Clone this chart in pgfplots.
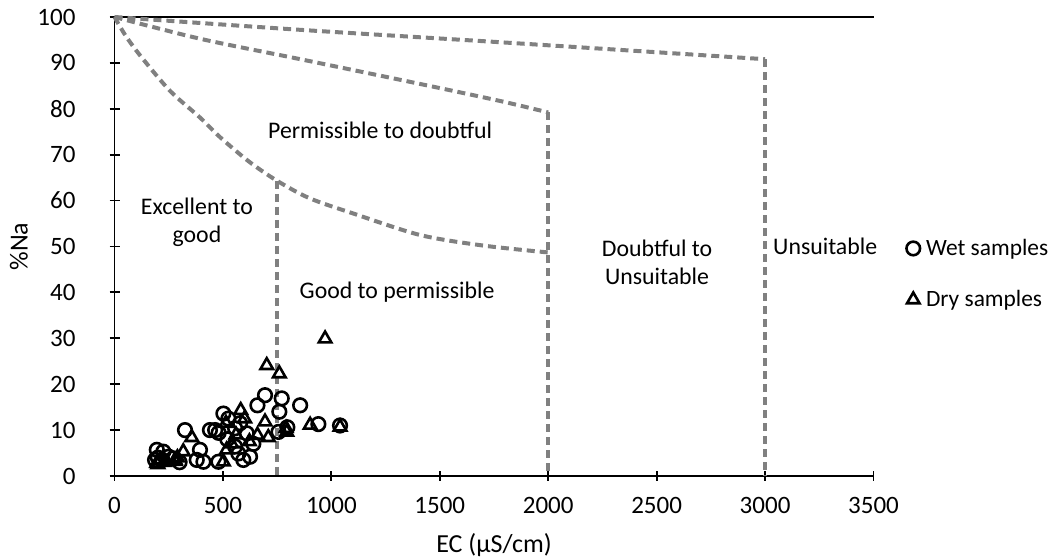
\documentclass[border=0pt]{standalone}
\usepackage{pgfplots}
\pgfplotsset{compat=1.18}
\usepackage{fontspec}
\setmainfont{Carlito}
\definecolor{dashgray}{HTML}{808080}
\begin{document}
\begin{tikzpicture}
\begin{axis}[
  scale only axis,
  width=379.5pt, height=229.5pt,
  xmin=0, xmax=3500, ymin=0, ymax=100,
  axis lines=left,
  axis line style={-, line width=0.9pt},
  xtick={0,500,...,3500}, ytick={0,10,...,100},
  tick align=center,
  major tick length=5pt,
  tick style={line width=0.9pt, black},
  /pgf/number format/assume math mode=true,
  /pgf/number format/1000 sep={},
  tick label style={font=\fontsize{12.5}{14}\selectfont},
  xticklabel style={yshift=-4.5pt},
  yticklabel style={xshift=-13.5pt},
  xlabel={EC (µS/cm)}, ylabel={\%Na},
  label style={font=\fontsize{13}{15}\selectfont},
  xlabel style={at={(axis description cs:0.5,-0.150)}, anchor=center},
  ylabel style={at={(axis description cs:-0.126,0.5)}, anchor=center},
  clip=false,
  legend style={at={(1.035,0.535)}, anchor=north west, draw=none,
    font=\fontsize{11.7}{13}\selectfont, row sep=12pt,
    /tikz/every odd column/.append style={column sep=1pt}},
  legend cell align=left,
]
% top border
\addplot[black, line width=0.9pt, forget plot] coordinates {(0,100) (3500,100)};
% Wilcox boundaries
\addplot[dashgray, line width=2pt, dash pattern=on 4pt off 2.5pt, smooth, forget plot] coordinates {
 (0,100) (50,96) (120,91.5) (256,83.9) (394,78.1) (487,73.8) (620,68.5) (750,64.3) (900,60.5) (1100,57.2) (1409,52.5) (1700,50.2) (2000,48.7)};
\addplot[dashgray, line width=2pt, dash pattern=on 4pt off 2.5pt, forget plot] coordinates {(750,64.3) (750,0)};
\addplot[dashgray, line width=2pt, dash pattern=on 4pt off 2.5pt, smooth, forget plot] coordinates {
 (0,100) (400,95.2) (857,90.8) (1400,85.5) (1778,81.7) (2000,79.2)};
\addplot[dashgray, line width=2pt, dash pattern=on 4pt off 2.5pt, forget plot] coordinates {(2000,79.2) (2000,0)};
\addplot[dashgray, line width=2pt, dash pattern=on 4pt off 2.5pt, smooth, forget plot] coordinates {
 (0,100) (857,97.2) (1778,94.5) (3000,90.8)};
\addplot[dashgray, line width=2pt, dash pattern=on 4pt off 2.5pt, forget plot] coordinates {(3000,90.8) (3000,0)};
% Wet samples
\addplot[only marks, mark=o, mark size=3.4pt, black, line width=1.3pt] coordinates {
 (694,17.6) (659,15.4) (771,16.9) (760,14.0) (856,15.4) (940,11.3) (797,10.6) (756,9.6)
 (325,10) (502,13.6) (525,12.5) (440,10) (464,10) (480,9.4) (556,10.4) (579,11.5)
 (610,9.3) (625,4.2) (594,3.5) (394,5.7) (379,3.5) (410,3.1) (479,3.1) (195,5.7)
 (225,5.3) (187,3.5) (556,6.4) (571,4.9) (1040,11) (200,4) (220,3.5) (250,4.2)
 (270,3.8) (300,3) (520,8) (640,7)};
\addlegendentry{Wet samples}
% Dry samples
\addplot[only marks, mark=triangle, mark size=3.6pt, black, line width=1.3pt] coordinates {
 (702,24.1) (760,22.3) (582,14.3) (694,11.8) (709,8.4) (659,8.9) (902,11.1) (791,10.4)
 (356,8.4) (317,5.3) (517,5.7) (514,11.5) (622,7.5) (279,3.5) (195,2.8) (502,3.1)
 (1040,10.7) (971,29.9) (794,9.6) (200,2.5) (210,3.5) (230,3) (280,3.2) (290,4.0)
 (540,7) (600,12.5) (560,9)};
\addlegendentry{Dry samples}
% region labels
\node[font=\fontsize{11.9}{14}\selectfont] at (axis cs:1225,75.2) {Permissible to doubtful};
\node[font=\fontsize{11.9}{14}\selectfont, align=center] at (axis cs:380,55.2) {Excellent to\\good};
\node[font=\fontsize{11.9}{14}\selectfont] at (axis cs:1303,40) {Good to permissible};
\node[font=\fontsize{11.9}{14}\selectfont, align=center] at (axis cs:2502,46.5) {Doubtful to\\Unsuitable};
\node[font=\fontsize{11.9}{14}\selectfont, anchor=west] at (axis cs:3005,50) {Unsuitable};
\coordinate (bl) at (rel axis cs:-0.1509,-0.1786);
\coordinate (tr) at (rel axis cs:1.2365,1.037);
\end{axis}
\pgfresetboundingbox
\path[use as bounding box] (bl) rectangle (tr);
\end{tikzpicture}
\end{document}
